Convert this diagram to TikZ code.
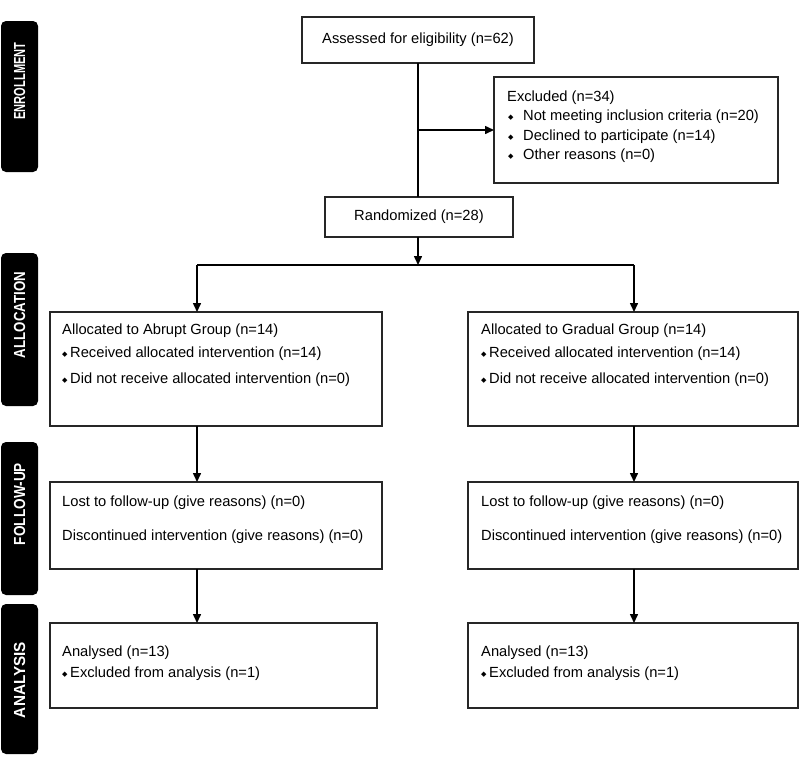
\documentclass[tikz,border=0pt]{standalone}
\usepackage{fontspec}
\usepackage{graphicx}
\setmainfont{Liberation Sans}
\newfontfamily\djv{DejaVu Sans}
\usetikzlibrary{arrows.meta}
\newcommand\dmd[1]{\makebox[#1][l]{{\djv\fontsize{7}{7}\selectfont\raisebox{1.6pt}{◆}}}}
\newcommand\sidefit[2]{\resizebox{#1}{\height}{#2}}
\begin{document}
\begin{tikzpicture}[x=1pt,y=-1pt,
  box/.style={draw=black!85, line width=1.2pt, inner sep=0pt, outer sep=0pt, anchor=north west},
  side/.style={fill=black, rounded corners=5pt, inner sep=0pt, outer sep=0pt, anchor=north west},
  sidetxt/.style={text=white, rotate=90, font=\bfseries\fontsize{16}{17}\selectfont, inner sep=0pt},
  txt/.style={anchor=west, inner sep=0pt, font=\fontsize{14.7}{17}\selectfont},
  ctxt/.style={inner sep=0pt, font=\fontsize{14.7}{17}\selectfont},
  conn/.style={line width=1.5pt, black},
  arr/.style={conn, -{Triangle[length=9pt,width=8pt]}}]
\useasboundingbox (0,0) rectangle (800,756);

% side labels
\node[side, minimum width=37, minimum height=151] (sEnr) at (1,21) {};
\node[sidetxt] (tEnr) at (19.5,81) {\sidefit{77pt}{ENROLLMENT}};
\node[side, minimum width=37, minimum height=153] (sAll) at (1,253) {};
\node[sidetxt] (tAll) at (19.5,315) {\sidefit{86pt}{ALLOCATION}};
\node[side, minimum width=37, minimum height=153] (sFol) at (1,442) {};
\node[sidetxt] (tFol) at (19.5,504) {\sidefit{82pt}{FOLLOW-UP}};
\node[side, minimum width=37, minimum height=150] (sAna) at (1,604) {};
\node[sidetxt] (tAna) at (19.5,680) {\sidefit{76pt}{ANALYSIS}};

% boxes
\node[box, minimum width=232, minimum height=46] (assess) at (302,17) {};
\node[ctxt] (tassess) at (418,40) {Assessed for eligibility (n=62)};
\node[box, minimum width=284, minimum height=106] (excl) at (494,77) {};
\node[txt] (te1) at (507,98) {Excluded (n=34)};
\node[txt] (te2) at (508,117) {\dmd{15pt}Not meeting inclusion criteria (n=20)};
\node[txt] (te3) at (508,137) {\dmd{15pt}Declined to participate (n=14)};
\node[txt] (te4) at (508,156) {\dmd{15pt}Other reasons (n=0)};
\node[box, minimum width=188, minimum height=40] (rand) at (325,197) {};
\node[ctxt] (trand) at (419,217) {Randomized (n=28)};

\node[box, minimum width=332, minimum height=114] (allocL) at (50,312) {};
\node[txt] (tal1) at (62,331) {Allocated to Abrupt Group (n=14)};
\node[txt] (tal2) at (62,354) {\dmd{8pt}Received allocated intervention (n=14)};
\node[txt] (tal3) at (62,380) {\dmd{8pt}Did not receive allocated intervention (n=0)};
\node[box, minimum width=330, minimum height=114] (allocR) at (468,312) {};
\node[txt] (tar1) at (481,331) {Allocated to Gradual Group (n=14)};
\node[txt] (tar2) at (481,354) {\dmd{8pt}Received allocated intervention (n=14)};
\node[txt] (tar3) at (481,380) {\dmd{8pt}Did not receive allocated intervention (n=0)};

\node[box, minimum width=332, minimum height=87] (fuL) at (50,482) {};
\node[txt] (tfl1) at (62,503) {Lost to follow-up (give reasons) (n=0)};
\node[txt] (tfl2) at (62,537) {Discontinued intervention (give reasons) (n=0)};
\node[box, minimum width=330, minimum height=87] (fuR) at (468,482) {};
\node[txt] (tfr1) at (481,503) {Lost to follow-up (give reasons) (n=0)};
\node[txt] (tfr2) at (481,537) {Discontinued intervention (give reasons) (n=0)};

\node[box, minimum width=327, minimum height=85] (anL) at (50,623) {};
\node[txt] (tnl1) at (62,653) {Analysed (n=13)};
\node[txt] (tnl2) at (62,674) {\dmd{8pt}Excluded from analysis (n=1)};
\node[box, minimum width=330, minimum height=85] (anR) at (468,623) {};
\node[txt] (tnr1) at (481,653) {Analysed (n=13)};
\node[txt] (tnr2) at (481,674) {\dmd{8pt}Excluded from analysis (n=1)};

% connectors
\coordinate (split) at (418,265);
\coordinate (lsp) at (197,265);
\coordinate (rsp) at (634,265);
\draw[conn] (assess.south -| split) -- (rand.north -| split);
\draw[arr] (excl.west -| split) -- (excl.west);
\draw[arr] (rand.south -| split) -- (split);
\draw[conn] (lsp) -- (rsp);
\draw[arr] (lsp) -- (allocL.north -| lsp);
\draw[arr] (rsp) -- (allocR.north -| rsp);
\draw[arr] (allocL.south -| lsp) -- (fuL.north -| lsp);
\draw[arr] (allocR.south -| rsp) -- (fuR.north -| rsp);
\draw[arr] (fuL.south -| lsp) -- (anL.north -| lsp);
\draw[arr] (fuR.south -| rsp) -- (anR.north -| rsp);
\end{tikzpicture}
\end{document}
